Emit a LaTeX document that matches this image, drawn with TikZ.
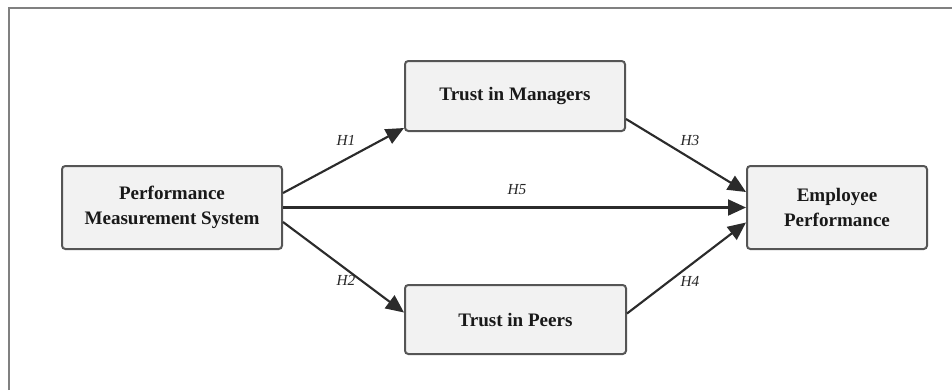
\documentclass[tikz,border=0pt]{standalone}
\usepackage{fontspec}
\setmainfont{Liberation Serif}
\usetikzlibrary{arrows.meta,calc}
\definecolor{boxfill}{HTML}{F2F2F2}
\definecolor{boxline}{HTML}{555555}
\definecolor{arrowc}{HTML}{2B2B2B}
\definecolor{framec}{HTML}{808080}
\tikzset{
  varbox/.style={draw=boxline, fill=boxfill, line width=1.5pt, rounded corners=2.5pt,
    align=center, inner sep=0pt, text=black!90,
    font=\fontsize{14.3}{18.75}\selectfont\bfseries},
  hyp/.style={-{Triangle[length=13.5pt,width=12pt]}, draw=arrowc, line width=1.6pt},
  hlabel/.style={font=\fontsize{11.5}{13}\selectfont\itshape, text=black!85, inner sep=0pt}
}
\begin{document}
\begin{tikzpicture}[x=0.75pt,y=-0.75pt]
\useasboundingbox (0,0) rectangle (952,390);
\coordinate (fbl) at (9,390);
\coordinate (ftl) at (9,8);
\coordinate (ftr) at (952,8);
\draw[framec, line width=2pt] (fbl) -- (ftl) -- (ftr);

\node[varbox, minimum width=165pt, minimum height=62.25pt] (pms) at (172,207.5) {Performance\\Measurement System};
\node[varbox, minimum width=165pt, minimum height=52.5pt] (tim) at (515,96) {Trust in Managers};
\node[varbox, minimum width=165.75pt, minimum height=51.75pt] (tip) at (515.5,319.5) {Trust in Peers};
\node[varbox, minimum width=135pt, minimum height=62.25pt] (ep) at (837,207.5) {Employee\\Performance};

\draw[hyp] ($(pms.east)+(0,-14.5)$) -- ($(tim.south west)+(0,-4)$);
\draw[hyp] ($(pms.east)+(0,14.5)$) -- ($(tip.west)+(0,-7)$);
\draw[hyp] (pms.east) -- (ep.west);
\draw[hyp] ($(tim.south east)+(0,-13)$) -- ($(ep.west)+(0,-15.5)$);
\draw[hyp] ($(tip.east)+(0,-6)$) -- ($(ep.west)+(0,15)$);

\node[hlabel] (h1) at (346,140) {H1};
\node[hlabel] (h2) at (346,280) {H2};
\node[hlabel] (h3) at (690,140) {H3};
\node[hlabel] (h4) at (690,281) {H4};
\node[hlabel] (h5) at (517,190) {H5};
\end{tikzpicture}
\end{document}
